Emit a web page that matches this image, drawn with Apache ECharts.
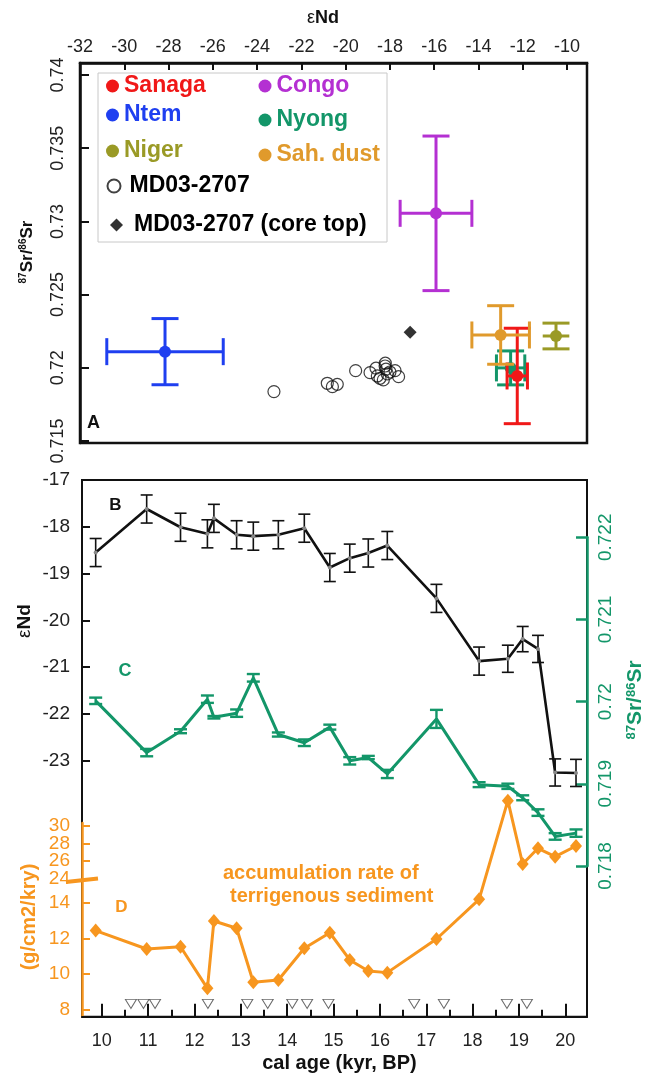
<!DOCTYPE html>
<html><head><meta charset="utf-8">
<script src="https://cdn.jsdelivr.net/npm/echarts@6/dist/echarts.min.js"></script>
<style>html,body{margin:0;padding:0;background:#fff}#c{width:657px;height:1074px}</style>
</head><body><div id="c"></div>
<script>
// ---------------- Panel A data ----------------
const srcNames    = ['Nyong', 'Sanaga', 'Sah. dust', 'Niger', 'Congo', 'Ntem'];
const srcEpsNd    = [-12.55, -12.25, -13.00, -10.50, -15.92, -28.16];
const srcEpsNdErr = [0.64, 0.46, 1.30, 0.60, 1.62, 2.63];
const srcSr       = [0.71999, 0.71944, 0.72224, 0.72217, 0.73055, 0.72110];
const srcSrErr    = [0.00116, 0.00326, 0.00200, 0.00088, 0.00528, 0.00226];
const coreEpsNd = [-23.24, -20.83, -20.60, -20.38, -19.55, -18.90, -18.63, -18.57, -18.45, -18.30, -18.21, -18.18, -18.12, -17.77, -17.61, -18.22, -18.00];
const coreSr    = [0.71837, 0.71894, 0.71871, 0.71887, 0.71980, 0.71967, 0.71997, 0.71944, 0.71928, 0.71917, 0.72031, 0.71990, 0.71958, 0.71980, 0.71939, 0.72012, 0.71971];
const coreTopEpsNd = [-17.09];
const coreTopSr    = [0.72243];
const epsNdTicksA = [-32, -30, -28, -26, -24, -22, -20, -18, -16, -14, -12, -10];
const srTicksA    = [0.715, 0.72, 0.725, 0.73, 0.735, 0.74];

// ---------------- Panels B, C, D data ----------------
const ages     = [9.87, 10.97, 11.70, 12.28, 12.42, 12.91, 13.27, 13.81, 14.37, 14.92, 15.35, 15.75, 16.16, 17.22, 18.14, 18.76, 19.08, 19.41, 19.78, 20.23];
const epsNd    = [-18.55, -17.62, -18.01, -18.15, -17.82, -18.17, -18.20, -18.17, -18.03, -18.87, -18.67, -18.56, -18.40, -19.53, -20.87, -20.82, -20.40, -20.61, -23.25, -23.26];
const epsNdErr = [0.30, 0.30, 0.30, 0.30, 0.30, 0.30, 0.30, 0.30, 0.30, 0.30, 0.30, 0.30, 0.30, 0.30, 0.30, 0.29, 0.27, 0.29, 0.29, 0.29];
const sr       = [0.72001, 0.71938, 0.71964, 0.72003, 0.71981, 0.71986, 0.72029, 0.71960, 0.71950, 0.71969, 0.71928, 0.71932, 0.71912, 0.71979, 0.71899, 0.71897, 0.71883, 0.71865, 0.71836, 0.71840];
const srErr    = [0.000039, 0.000045, 0.000024, 0.000045, 0.000015, 0.000045, 0.000046, 0.000025, 0.00004, 0.00003, 0.000045, 0.00002, 0.00005, 0.00011, 0.00003, 0.000032, 0.00003, 0.00004, 0.00004, 0.000045];
const accRate  = [12.44, 11.41, 11.54, 9.21, 12.98, 12.57, 9.55, 9.68, 11.45, 12.32, 10.80, 10.18, 10.09, 11.97, 14.19, 32.9, 25.64, 27.44, 26.48, 27.70];
const datedAges = [10.63, 10.90, 11.15, 12.29, 13.14, 13.58, 14.11, 14.43, 14.89, 16.74, 17.38, 18.74, 19.17];
const ageTicks      = [10, 11, 12, 13, 14, 15, 16, 17, 18, 19, 20];
const ageMinorTicks = [10.5, 11.5, 12.5, 13.5, 14.5, 15.5, 16.5, 17.5, 18.5, 19.5];
const epsNdTicksB = [-23, -22, -21, -20, -19, -18, -17];
const srTicksC    = [0.718, 0.719, 0.72, 0.721, 0.722];
const accTicks    = [8, 10, 12, 14, 24, 26, 28, 30];
const accTicksSetA = [8, 10, 12, 14, 24, 28];   // labels drawn by the main orange axis
const accTicksSetB = [26, 30];                  // labels drawn by an overlaid twin axis

// ---------------- styling constants ----------------
const FONT = 'Liberation Sans, Arial, Helvetica, sans-serif';
const COL = {
  'Sanaga': '#f01818', 'Ntem': '#1f3ff0', 'Niger': '#9a9a26', 'Congo': '#b430d2',
  'Nyong': '#139669', 'Sah. dust': '#e09a2c'
};
const NO_XCAP = { 'Niger': true };
const GREEN = '#139669', ORANGE = '#f7961f';
const TRI_ROW = 8.34; // vertical row (axis units of panel D) for the dating markers

// broken orange axis: lower part 8-15 linear, upper part 24-33 compressed
function accToAxis(v) {
  if (v <= 15.2) return v;
  if (v >= 23.8) return 15.366 + (v - 24) * 0.4877;
  return 15.2 + (v - 15.2) / 8.6 * (15.268 - 15.2);
}
function axisToAccLabel(d) {
  let best = accTicks[0], bd = 1e9;
  accTicks.forEach(t => { const dd = Math.abs(accToAxis(t) - d); if (dd < bd) { bd = dd; best = t; } });
  return String(best);
}

function crossRender(color, noXCap) {
  return function (params, api) {
    const x = api.value(0), y = api.value(1), xe = api.value(2), ye = api.value(3);
    const c = api.coord([x, y]), t = api.coord([x, y + ye]), b = api.coord([x, y - ye]);
    const l = api.coord([x - xe, y]), r = api.coord([x + xe, y]);
    const h = 13.5, st = { stroke: color, lineWidth: 3 };
    const ln = (x1, y1, x2, y2) => ({ type: 'line', shape: { x1, y1, x2, y2 }, style: st });
    const kids = [ln(l[0], l[1], r[0], r[1]), ln(t[0], t[1], b[0], b[1]),
      ln(t[0] - h, t[1], t[0] + h, t[1]), ln(b[0] - h, b[1], b[0] + h, b[1])];
    if (!noXCap) {
      kids.push(ln(l[0], l[1] - h, l[0], l[1] + h), ln(r[0], r[1] - h, r[0], r[1] + h));
    }
    kids.push({ type: 'circle', shape: { cx: c[0], cy: c[1], r: 6 }, style: { fill: color } });
    return { type: 'group', children: kids };
  };
}
function vErrRender(color, half, lw) {
  return function (params, api) {
    const x = api.value(0), y = api.value(1), e = api.value(2);
    const t = api.coord([x, y + e]), b = api.coord([x, y - e]);
    const st = { stroke: color, lineWidth: lw };
    return { type: 'group', children: [
      { type: 'line', shape: { x1: t[0], y1: t[1], x2: b[0], y2: b[1] }, style: st },
      { type: 'line', shape: { x1: t[0] - half, y1: t[1], x2: t[0] + half, y2: t[1] }, style: st },
      { type: 'line', shape: { x1: b[0] - half, y1: b[1], x2: b[0] + half, y2: b[1] }, style: st }
    ] };
  };
}

const chart = echarts.init(document.getElementById('c'), null, { renderer: 'canvas' });

const legendCommon = { orient: 'horizontal', padding: 0, itemWidth: 13, itemHeight: 13, itemGap: 0, selectedMode: false,
  textStyle: { fontSize: 23, fontWeight: 'bold', fontFamily: FONT, color: '#000' } };
function lg(name, icon, left, cy, color, extraPad) {
  return Object.assign({}, legendCommon, {
    left: left, top: cy - 11.5,
    data: [{ name: name, icon: icon, textStyle: { color: color, fontSize: 23, fontWeight: 'bold', fontFamily: FONT, padding: [0, 0, 0, extraPad || 0] } }]
  });
}

const srcSeries = srcNames.map((n, i) => ({
  name: n, type: 'custom', xAxisIndex: 0, yAxisIndex: 0,
  itemStyle: { color: COL[n] },
  renderItem: crossRender(COL[n], !!NO_XCAP[n]),
  data: [[srcEpsNd[i], srcSr[i], srcEpsNdErr[i], srcSrErr[i]]],
  z: 3
}));

const accLabelStyle = { fontSize: 19, fontFamily: FONT, color: ORANGE, margin: 12,
  showMinLabel: true, showMaxLabel: true, hideOverlap: false, formatter: v => axisToAccLabel(v) };

const option = {
  animation: false,
  backgroundColor: '#fff',
  grid: [
    { left: 80, top: 63, width: 507, height: 380, show: true, borderColor: '#111', borderWidth: 2.5, containLabel: false },
    { left: 82, top: 480, width: 505, height: 536.7, show: true, borderColor: '#111', borderWidth: 2, containLabel: false },
    { left: 82, top: 480, width: 505, height: 343, containLabel: false },
    { left: 82, top: 537.3, width: 505, height: 328.7, containLabel: false },
    { left: 82, top: 823, width: 505, height: 193.7, containLabel: false }
  ],
  legend: [
    lg('Sanaga', 'circle', 106, 86, COL['Sanaga']),
    lg('Ntem', 'circle', 106, 115, COL['Ntem']),
    lg('Niger', 'circle', 106, 151, COL['Niger']),
    lg('MD03-2707', 'circle', 106.5, 186, '#000', 4),
    lg('MD03-2707 (core top)', 'diamond', 110, 225, '#000', 6),
    lg('Congo', 'circle', 258.5, 86, COL['Congo']),
    lg('Nyong', 'circle', 258.5, 120, COL['Nyong']),
    lg('Sah. dust', 'circle', 258.5, 155, COL['Sah. dust'])
  ],
  xAxis: [
    { gridIndex: 0, type: 'value', position: 'top', min: -32, max: -9.1,
      axisLine: { show: true, lineStyle: { color: '#111', width: 2.5 } },
      axisTick: { inside: true, length: 7, lineStyle: { color: '#111', width: 2 }, customValues: epsNdTicksA },
      axisLabel: { fontSize: 18, fontFamily: FONT, color: '#222', margin: 7, customValues: epsNdTicksA },
      splitLine: { show: false } },
    { gridIndex: 1, type: 'value', position: 'bottom', min: 9.575, max: 20.467,
      axisLine: { show: true, lineStyle: { color: '#111', width: 2 } },
      axisTick: { inside: true, length: 13, lineStyle: { color: '#111', width: 2 }, customValues: ageTicks },
      axisLabel: { fontSize: 18, fontFamily: FONT, color: '#222', margin: 15, customValues: ageTicks },
      splitLine: { show: false } },
    { gridIndex: 1, type: 'value', position: 'bottom', min: 9.575, max: 20.467,
      axisLine: { show: false },
      axisTick: { inside: true, length: 7, lineStyle: { color: '#111', width: 2 }, customValues: ageMinorTicks },
      axisLabel: { show: false }, splitLine: { show: false } },
    { gridIndex: 2, type: 'value', min: 9.575, max: 20.467, show: false },
    { gridIndex: 3, type: 'value', min: 9.575, max: 20.467, show: false },
    { gridIndex: 4, type: 'value', min: 9.575, max: 20.467, show: false }
  ],
  yAxis: [
    { gridIndex: 0, type: 'value', min: 0.71486, max: 0.74082,
      axisLine: { show: true, lineStyle: { color: '#111', width: 2.5 } },
      axisTick: { inside: true, length: 9, lineStyle: { color: '#111', width: 2 }, customValues: srTicksA },
      axisLabel: { rotate: 90, fontSize: 18, fontFamily: FONT, color: '#222', margin: 13, customValues: srTicksA, showMinLabel: true, showMaxLabel: true },
      splitLine: { show: false } },
    { gridIndex: 1, type: 'value', min: 0, max: 1, show: false },
    { gridIndex: 2, type: 'value', min: -24.33, max: -17, position: 'left',
      axisLine: { show: true, lineStyle: { color: '#111', width: 2 } },
      axisTick: { inside: true, length: 8, lineStyle: { color: '#111', width: 2 }, customValues: epsNdTicksB },
      axisLabel: { fontSize: 19, fontFamily: FONT, color: '#222', margin: 12, customValues: epsNdTicksB, showMinLabel: true, showMaxLabel: true },
      splitLine: { show: false } },
    { gridIndex: 3, type: 'value', min: 0.718, max: 0.722, interval: 0.001, position: 'right',
      axisLine: { show: true, lineStyle: { color: GREEN, width: 2.5 } },
      axisTick: { inside: true, length: 11, lineStyle: { color: GREEN, width: 2.5 } },
      axisLabel: { rotate: 90, fontSize: 19, fontFamily: FONT, color: GREEN, margin: 9, showMinLabel: true, showMaxLabel: true },
      splitLine: { show: false } },
    { gridIndex: 4, type: 'value', min: 7.625, max: 18.459, position: 'left',
      axisLine: { show: true, lineStyle: { color: ORANGE, width: 2.5 } },
      axisTick: { inside: true, length: 8, lineStyle: { color: ORANGE, width: 2 }, customValues: accTicks.map(accToAxis) },
      axisLabel: Object.assign({ customValues: accTicksSetA.map(accToAxis) }, accLabelStyle),
      splitLine: { show: false } },
    { gridIndex: 4, type: 'value', min: 7.625, max: 18.459, position: 'left', offset: 0,
      axisLine: { show: false }, axisTick: { show: false },
      axisLabel: Object.assign({ customValues: accTicksSetB.map(accToAxis) }, accLabelStyle),
      splitLine: { show: false } }
  ],
  series: srcSeries.concat([
    { name: 'MD03-2707', type: 'scatter', xAxisIndex: 0, yAxisIndex: 0, symbol: 'circle', symbolSize: 12,
      itemStyle: { color: 'rgba(255,255,255,0)', borderColor: '#111', borderWidth: 1.2 },
      data: coreEpsNd.map((x, i) => [x, coreSr[i]]), z: 4 },
    { name: 'MD03-2707 (core top)', type: 'scatter', xAxisIndex: 0, yAxisIndex: 0, symbol: 'diamond', symbolSize: 13,
      itemStyle: { color: '#000' },
      data: coreTopEpsNd.map((x, i) => [x, coreTopSr[i]]), z: 4 },
    // Panel B
    { name: 'eNd err', type: 'custom', xAxisIndex: 3, yAxisIndex: 2, renderItem: vErrRender('#111', 6, 1.6),
      data: ages.map((a, i) => [a, epsNd[i], epsNdErr[i]]), z: 2 },
    { name: 'eNd', type: 'line', xAxisIndex: 3, yAxisIndex: 2, symbol: 'circle', symbolSize: 4,
      itemStyle: { color: '#888' }, lineStyle: { color: '#111', width: 2.6 },
      data: ages.map((a, i) => [a, epsNd[i]]), z: 3 },
    // Panel C
    { name: 'Sr err', type: 'custom', xAxisIndex: 4, yAxisIndex: 3, renderItem: vErrRender(GREEN, 6.5, 2.4),
      data: ages.map((a, i) => [a, sr[i], srErr[i]]), z: 2 },
    { name: 'Sr', type: 'line', xAxisIndex: 4, yAxisIndex: 3, symbol: 'none',
      lineStyle: { color: GREEN, width: 3 },
      data: ages.map((a, i) => [a, sr[i]]), z: 3 },
    // Panel D
    { name: 'acc', type: 'line', xAxisIndex: 5, yAxisIndex: 4, symbol: 'diamond', symbolSize: [12, 14], clip: false,
      itemStyle: { color: ORANGE }, lineStyle: { color: ORANGE, width: 3 },
      data: ages.map((a, i) => [a, accToAxis(accRate[i])]), z: 4 },
    { name: 'dates', type: 'scatter', xAxisIndex: 5, yAxisIndex: 4, symbol: 'triangle', symbolRotate: 180, symbolSize: [11, 9],
      itemStyle: { color: '#fff', borderColor: '#444', borderWidth: 1 },
      data: datedAges.map(a => [a, TRI_ROW]), z: 4 }
  ]),
  graphic: [
    { type: 'rect', shape: { x: 98, y: 73, width: 289, height: 169 }, style: { fill: 'none', stroke: '#c8c8c8', lineWidth: 1 }, z: 1 },
    { type: 'text', x: 323, y: 18, style: { text: '{e|ε}{n|Nd}', align: 'center', verticalAlign: 'middle',
        rich: { e: { fontSize: 18, fontFamily: FONT, fill: '#111' }, n: { fontSize: 18, fontWeight: 'bold', fontFamily: FONT, fill: '#111' } } } },
    { type: 'text', x: 27, y: 252, rotation: Math.PI / 2, style: { text: '{s|87}{t|Sr/}{s|86}{t|Sr}', align: 'center', verticalAlign: 'middle',
        rich: { s: { fontSize: 10, fontWeight: 'bold', fontFamily: FONT, fill: '#111', verticalAlign: 'top' }, t: { fontSize: 17, fontWeight: 'bold', fontFamily: FONT, fill: '#111' } } } },
    { type: 'text', x: 93.5, y: 423, style: { text: 'A', fontSize: 18, fontWeight: 'bold', fontFamily: FONT, fill: '#111', align: 'center', verticalAlign: 'middle' } },
    { type: 'text', x: 115.5, y: 505.5, style: { text: 'B', fontSize: 17, fontWeight: 'bold', fontFamily: FONT, fill: '#111', align: 'center', verticalAlign: 'middle' } },
    { type: 'text', x: 125, y: 671.5, style: { text: 'C', fontSize: 18, fontWeight: 'bold', fontFamily: FONT, fill: GREEN, align: 'center', verticalAlign: 'middle' } },
    { type: 'text', x: 121.5, y: 907.5, style: { text: 'D', fontSize: 17, fontWeight: 'bold', fontFamily: FONT, fill: ORANGE, align: 'center', verticalAlign: 'middle' } },
    { type: 'text', x: 223, y: 873, style: { text: 'accumulation rate of', fontSize: 20, fontWeight: 'bold', fontFamily: FONT, fill: ORANGE, align: 'left', verticalAlign: 'middle' } },
    { type: 'text', x: 230, y: 896, style: { text: 'terrigenous sediment', fontSize: 20, fontWeight: 'bold', fontFamily: FONT, fill: ORANGE, align: 'left', verticalAlign: 'middle' } },
    { type: 'text', x: 24.5, y: 621, rotation: Math.PI / 2, style: { text: '{e|ε}{n|Nd}', align: 'center', verticalAlign: 'middle',
        rich: { e: { fontSize: 19, fontFamily: FONT, fill: '#111' }, n: { fontSize: 19, fontWeight: 'bold', fontFamily: FONT, fill: '#111' } } } },
    { type: 'text', x: 29, y: 917, rotation: Math.PI / 2, style: { text: '(g/cm2/kry)', fontSize: 20, fontWeight: 'bold', fontFamily: FONT, fill: ORANGE, align: 'center', verticalAlign: 'middle' } },
    { type: 'text', x: 635, y: 700, rotation: Math.PI / 2, style: { text: '{s|87}{t|Sr/}{s|86}{t|Sr}', align: 'center', verticalAlign: 'middle',
        rich: { s: { fontSize: 13, fontWeight: 'bold', fontFamily: FONT, fill: GREEN, verticalAlign: 'top' }, t: { fontSize: 21, fontWeight: 'bold', fontFamily: FONT, fill: GREEN } } } },
    { type: 'text', x: 339.5, y: 1063, style: { text: 'cal age (kyr, BP)', fontSize: 20, fontWeight: 'bold', fontFamily: FONT, fill: '#111', align: 'center', verticalAlign: 'middle' } },
    { type: 'line', shape: { x1: 66, y1: 882, x2: 98, y2: 878.5 }, style: { stroke: ORANGE, lineWidth: 4 }, z: 5 }
  ]
};
chart.setOption(option);
</script>
</body></html>
